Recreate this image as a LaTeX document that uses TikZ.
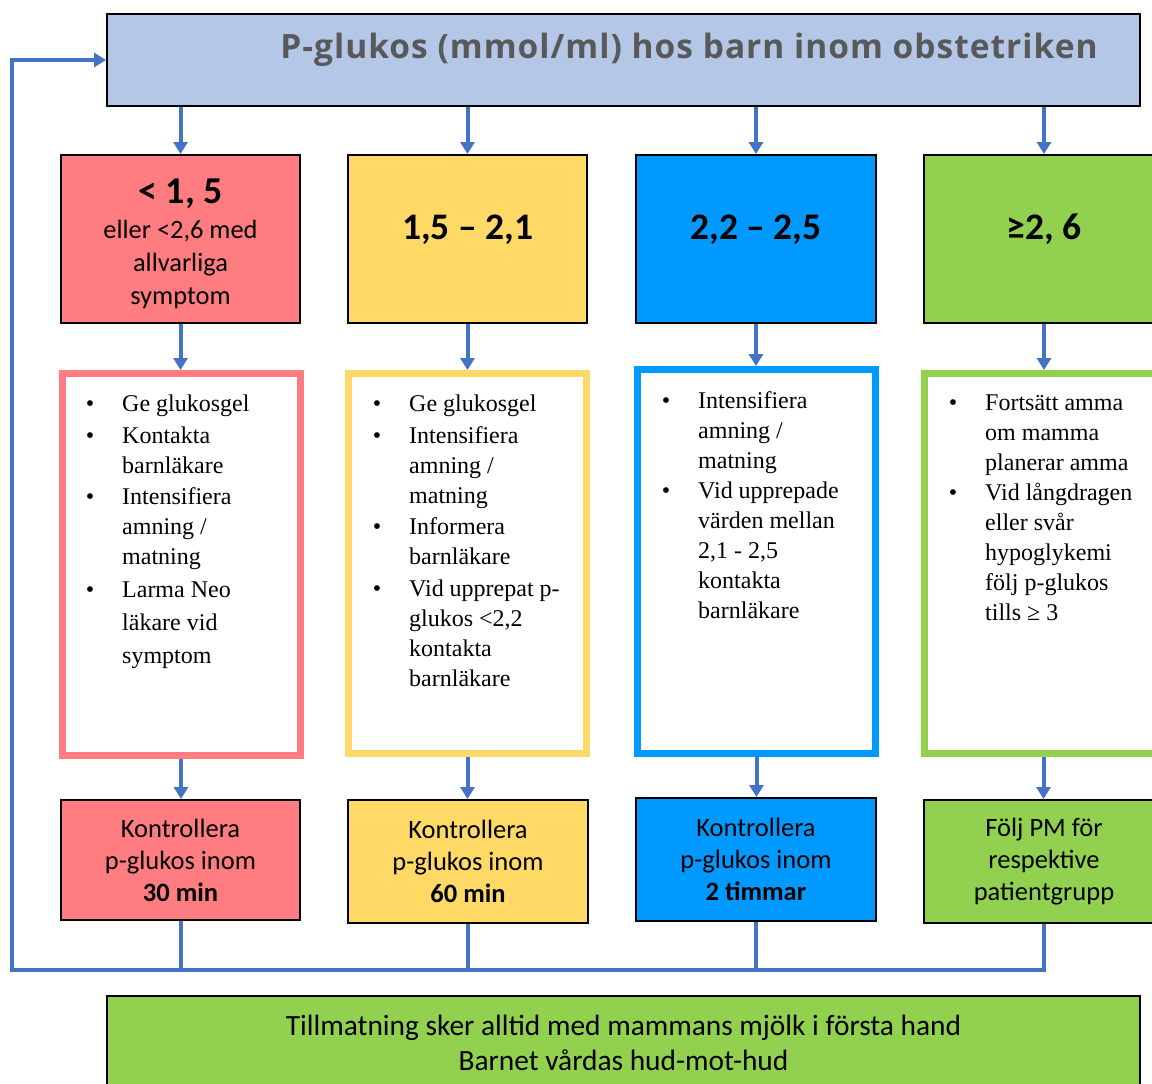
\documentclass[tikz,border=0pt]{standalone}
\usepackage{fontspec}
\setmainfont{Liberation Serif}
\newfontfamily\calfont{Carlito}
\newfontfamily\titelfont[LetterSpace=3.0]{Open Sans}
\usetikzlibrary{arrows.meta}
\definecolor{pilblaa}{HTML}{4472C4}
\definecolor{titelblaa}{HTML}{B4C7E7}
\definecolor{roed}{HTML}{FF7C80}
\definecolor{gul}{HTML}{FFD966}
\definecolor{blaa}{HTML}{0099FF}
\definecolor{groen}{HTML}{92D050}
\definecolor{titelgraa}{HTML}{595959}
\newcommand{\pkt}{\llap{\textbullet\hspace{28pt}}}

\begin{document}
\begin{tikzpicture}[x=1pt, y=-1pt,
		ruta/.style={draw=black, line width=2pt, inner sep=0pt, align=center, font=\calfont},
		granstal/.style={ruta, minimum width=240pt, minimum height=168pt, text depth=24pt, font=\calfont\bfseries\fontsize{37.5}{44}\selectfont},
		kontroll/.style={ruta, minimum width=240pt, minimum height=123pt, font=\calfont\fontsize{26.5}{32}\selectfont},
		atgard/.style={line width=7pt, fill=white, minimum width=238pt, inner sep=0pt},
		liste/.style={anchor=north west, inner sep=0pt, align=left, font=\fontsize{24}{30}\selectfont},
		pil/.style={draw=pilblaa, line width=4pt, -{Triangle[width=14pt,length=12pt]}},
		linje/.style={draw=pilblaa, line width=4pt}]
		\useasboundingbox (0,0) rectangle (1152,1084);
		\clip (0,0) rectangle (1152,1084);
		% rubrik
		\node[ruta, fill=titelblaa, minimum width=1033pt, minimum height=92pt] (titel) at (623.5,60) {};
		\node[text=titelgraa, font=\titelfont\bfseries\fontsize{33.5}{40}\selectfont] (titeltext) at (689,50) {P-glukos (mmol/ml) hos barn inom obstetriken};
		% gränsvärden
		\node[ruta, fill=roed, minimum width=239pt, minimum height=168pt, font=\calfont\fontsize{26.4}{33}\selectfont] (grans1) at (180.5,239) {{\fontsize{38}{44}\selectfont\bfseries\rule{0pt}{34pt}< 1, 5}\\[2pt] eller <2,6 med\\ allvarliga\\ symptom};
		\node[granstal, fill=gul, minimum width=239pt] (grans2) at (467.5,239) {1,5 – 2,1};
		\node[granstal, fill=blaa] (grans3) at (756,239) {2,2 – 2,5};
		\node[granstal, fill=groen] (grans4) at (1044,239) {≥2, 6};
		% åtgärder
		\node[atgard, draw=roed, minimum height=382pt] (atg1) at (181,564.5) {};
		\node[atgard, draw=gul, minimum height=380pt] (atg2) at (467.5,563.5) {};
		\node[atgard, draw=blaa, minimum height=384pt] (atg3) at (756.5,561.5) {};
		\node[atgard, draw=groen, minimum height=380pt] (atg4) at (1043.5,563.5) {};
		\node[liste] (liste1) at (122,395) {\pkt Ge glukosgel\\[1.5pt] \pkt Kontakta\\ barnläkare\\[1.5pt] \pkt Intensifiera\\ amning /\\ matning\\[3pt] \pkt Larma Neo\\[3pt] läkare vid\\[3pt] symptom};
		\node[liste] (liste2) at (409,395) {\pkt Ge glukosgel\\[1.5pt] \pkt Intensifiera\\ amning /\\ matning\\[1.5pt] \pkt Informera\\ barnläkare\\[1.5pt] \pkt Vid upprepat p-\\ glukos <2,2\\ kontakta\\ barnläkare};
		\node[liste] (liste3) at (698,391) {\pkt Intensifiera\\ amning /\\ matning\\ \pkt Vid upprepade\\ värden mellan\\ 2,1 - 2,5\\ kontakta\\ barnläkare};
		\node[liste] (liste4) at (985,395) {\pkt Fortsätt amma\\ om mamma\\ planerar amma\\ \pkt Vid långdragen\\ eller svår\\ hypoglykemi\\ följ p-glukos\\ tills ≥ 3};
		% kontroller
		\node[kontroll, fill=roed, minimum width=239pt, minimum height=120pt] (kontr1) at (180.5,860) {Kontrollera\\ p-glukos inom\\ \textbf{30 min}};
		\node[kontroll, fill=gul] (kontr2) at (468,861.5) {Kontrollera\\ p-glukos inom\\ \textbf{60 min}};
		\node[kontroll, fill=blaa] (kontr3) at (756,859.5) {Kontrollera\\ p-glukos inom\\ \textbf{2 timmar}};
		\node[kontroll, fill=groen] (kontr4) at (1044,861.5) {Följ PM för\\ respektive\\ patientgrupp};
		\node[ruta, fill=groen, minimum width=1033pt, minimum height=94pt, font=\calfont\fontsize{29.4}{35}\selectfont] (tillm) at (623.5,1043) {Tillmatning sker alltid med mammans mjölk i första hand\\ Barnet vårdas hud-mot-hud};
		% pilar
		\draw[pil] (grans1.north |- titel.south) -- (grans1.north);
		\draw[pil] (grans2.north |- titel.south) -- (grans2.north);
		\draw[pil] (grans3.north |- titel.south) -- (grans3.north);
		\draw[pil] (grans4.north |- titel.south) -- (grans4.north);
		\draw[pil] (grans1.south) -- (grans1.south |- atg1.north);
		\draw[pil] (grans2.south) -- (grans2.south |- atg2.north);
		\draw[pil] (grans3.south) -- (grans3.south |- atg3.north);
		\draw[pil] (grans4.south) -- (grans4.south |- atg4.north);
		\draw[pil] (atg1.south) -- (atg1.south |- kontr1.north);
		\draw[pil] (atg2.south) -- (atg2.south |- kontr2.north);
		\draw[pil] (atg3.south) -- (atg3.south |- kontr3.north);
		\draw[pil] (atg4.south) -- (atg4.south |- kontr4.north);
		% återkoppling
		\coordinate (hoern) at (12,970);
		\draw[linje] (kontr1.south) -- (kontr1.south |- hoern);
		\draw[linje] (kontr2.south) -- (kontr2.south |- hoern);
		\draw[linje] (kontr3.south) -- (kontr3.south |- hoern);
		\draw[pil] (kontr4.south) |- (hoern) |- (titel.west);
	\end{tikzpicture}
\end{document}
